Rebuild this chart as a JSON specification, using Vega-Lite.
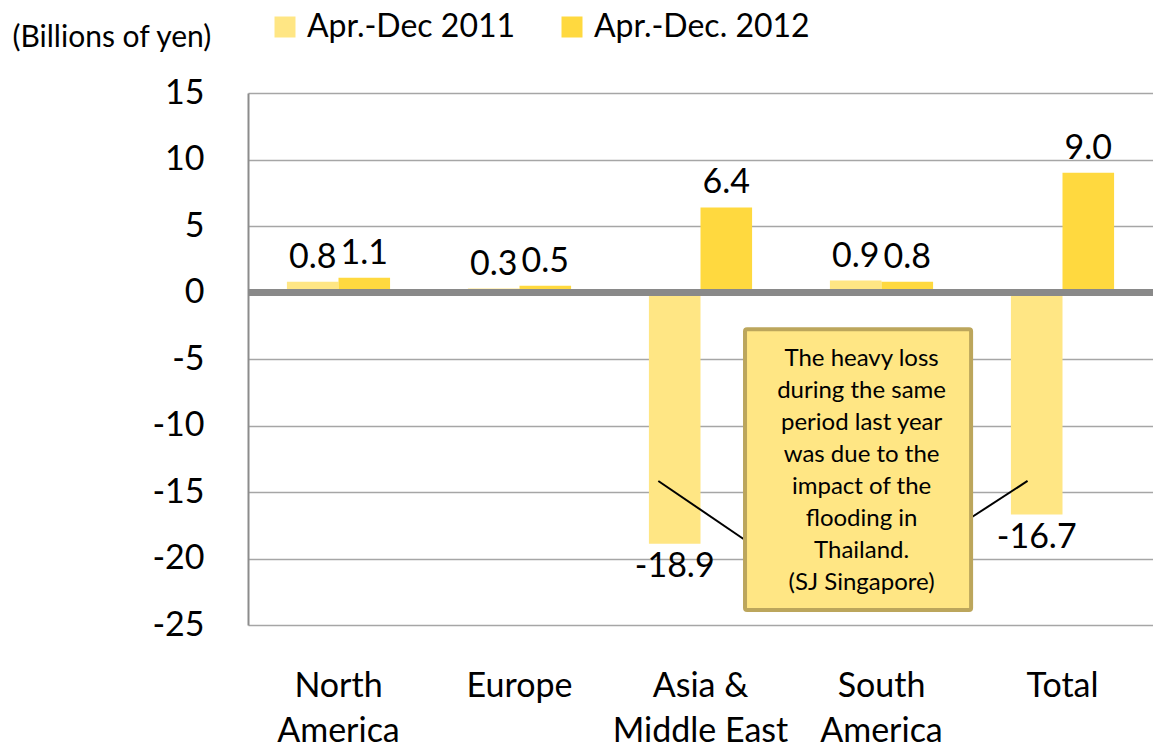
{
  "$schema": "https://vega.github.io/schema/vega-lite/v6.json",
  "autosize": "none",
  "width": 905,
  "height": 532,
  "padding": {"left": 248, "top": 93, "right": 0, "bottom": 121},
  "background": "white",
  "config": {
    "font": "Lato",
    "view": {"stroke": null},
    "locale": {
      "number": {"decimal": ".", "thousands": ",", "grouping": [3], "currency": ["", ""], "minus": "-"}
    }
  },
  "datasets": {
    "profit": [
      {"region": "North America", "period": "Apr.-Dec 2011", "value": 0.8},
      {"region": "North America", "period": "Apr.-Dec. 2012", "value": 1.1},
      {"region": "Europe", "period": "Apr.-Dec 2011", "value": 0.3},
      {"region": "Europe", "period": "Apr.-Dec. 2012", "value": 0.5},
      {"region": "Asia & Middle East", "period": "Apr.-Dec 2011", "value": -18.9},
      {"region": "Asia & Middle East", "period": "Apr.-Dec. 2012", "value": 6.4},
      {"region": "South America", "period": "Apr.-Dec 2011", "value": 0.9},
      {"region": "South America", "period": "Apr.-Dec. 2012", "value": 0.8},
      {"region": "Total", "period": "Apr.-Dec 2011", "value": -16.7},
      {"region": "Total", "period": "Apr.-Dec. 2012", "value": 9.0}
    ],
    "callout": [
      {"x0": 2.746, "x1": 3.995, "y0": -2.77, "y1": -23.87, "tx": 3.39, "ty": -5.0,
       "note": "The heavy loss\nduring the same\nperiod  last year\nwas due to the\nimpact of the\nflooding in\nThailand.\n(SJ Singapore)"}
    ],
    "leaders": [
      {"x0": 2.267, "y0": -14.17, "x1": 2.746, "y1": -18.61},
      {"x0": 3.998, "y0": -16.9, "x1": 4.307, "y1": -14.17}
    ]
  },
  "encoding": {
    "y": {
      "field": "value",
      "type": "quantitative",
      "scale": {"domain": [-25, 15], "nice": false, "zero": false},
      "axis": {
        "values": [-25, -20, -15, -10, -5, 0, 5, 10, 15],
        "title": "(Billions of yen)",
        "titleAngle": 0,
        "titleX": -236,
        "titleY": -56,
        "titleAlign": "left",
        "titleBaseline": "middle",
        "titleFont": "Lato",
        "titleFontSize": 30,
        "titleFontWeight": "normal",
        "titleColor": "#000000",
        "labelFontSize": 34,
        "labelColor": "#000000",
        "labelPadding": 44,
        "ticks": false,
        "domainColor": "#8C8C8C",
        "domainWidth": 2,
        "gridColor": "#A6A6A6",
        "gridWidth": 1.5
      }
    }
  },
  "layer": [
    {
      "encoding": {
        "x": {
          "field": "region",
          "type": "nominal",
          "sort": null,
          "scale": {"paddingInner": 0.43, "paddingOuter": 0.215},
          "axis": {
            "title": null,
            "labelAngle": 0,
            "labelFontSize": 34,
            "labelColor": "#000000",
            "labelPadding": 44,
            "labelLineHeight": 45,
            "labelBaseline": "top",
            "labelExpr": "datum.label == 'Asia & Middle East' ? ['Asia &', 'Middle East'] : split(datum.label, ' ')",
            "ticks": false,
            "domain": false,
            "grid": false
          }
        }
      },
      "layer": [
        {
          "data": {"name": "profit"},
          "mark": {"type": "bar", "strokeWidth": 0},
          "encoding": {
            "xOffset": {"field": "period", "type": "nominal", "sort": null, "scale": {"paddingInner": 0, "paddingOuter": 0}},
            "color": {
              "field": "period",
              "type": "nominal",
              "sort": null,
              "scale": {"domain": ["Apr.-Dec 2011", "Apr.-Dec. 2012"], "range": ["#FFE684", "#FFD93F"]},
              "legend": {
                "title": null,
                "orient": "none",
                "direction": "horizontal",
                "legendX": 21,
                "legendY": -82,
                "symbolType": "square",
                "symbolSize": 441,
                "symbolStrokeWidth": 0,
                "labelFontSize": 32,
                "labelColor": "#000000",
                "labelOffset": 6,
                "labelLimit": 400,
                "columnPadding": 40
              }
            }
          }
        },
        {
          "data": {"name": "profit"},
          "transform": [{"filter": "datum.value >= 0"}],
          "mark": {"type": "text", "fontSize": 34, "color": "#000000", "baseline": "alphabetic", "dy": -14},
          "encoding": {
            "xOffset": {"field": "period", "type": "nominal", "sort": null, "scale": {"paddingInner": 0, "paddingOuter": 0}},
            "text": {"field": "value", "type": "quantitative", "format": ".1f"}
          }
        },
        {
          "data": {"name": "profit"},
          "transform": [{"filter": "datum.value < 0"}],
          "mark": {"type": "text", "fontSize": 34, "color": "#000000", "baseline": "alphabetic", "dy": 33},
          "encoding": {
            "xOffset": {"field": "period", "type": "nominal", "sort": null, "scale": {"paddingInner": 0, "paddingOuter": 0}},
            "text": {"field": "value", "type": "quantitative", "format": ".1f"}
          }
        }
      ]
    },
    {
      "data": {"values": [{"value": 0}]},
      "mark": {"type": "rule", "color": "#898989", "strokeWidth": 7},
      "encoding": {"y": {"field": "value", "type": "quantitative"}}
    },
    {
      "encoding": {
        "x": {"type": "quantitative", "scale": {"domain": [0, 5], "nice": false, "zero": false}, "axis": null}
      },
      "layer": [
        {
          "data": {"name": "leaders"},
          "mark": {"type": "rule", "color": "#000000", "strokeWidth": 2},
          "encoding": {
            "x": {"field": "x0", "type": "quantitative"},
            "x2": {"field": "x1"},
            "y": {"field": "y0", "type": "quantitative"},
            "y2": {"field": "y1"}
          }
        },
        {
          "data": {"name": "callout"},
          "mark": {"type": "rect", "fill": "#FFE684", "stroke": "#BCA65C", "strokeWidth": 4, "cornerRadius": 2},
          "encoding": {
            "x": {"field": "x0", "type": "quantitative"},
            "x2": {"field": "x1"},
            "y": {"field": "y0", "type": "quantitative"},
            "y2": {"field": "y1"}
          }
        },
        {
          "data": {"name": "callout"},
          "mark": {"type": "text", "fontSize": 24, "color": "#000000", "align": "center", "baseline": "middle", "lineBreak": "\n", "lineHeight": 32},
          "encoding": {
            "x": {"field": "tx", "type": "quantitative"},
            "y": {"field": "ty", "type": "quantitative"},
            "text": {"field": "note"}
          }
        }
      ]
    }
  ],
  "resolve": {"scale": {"x": "independent"}}
}
